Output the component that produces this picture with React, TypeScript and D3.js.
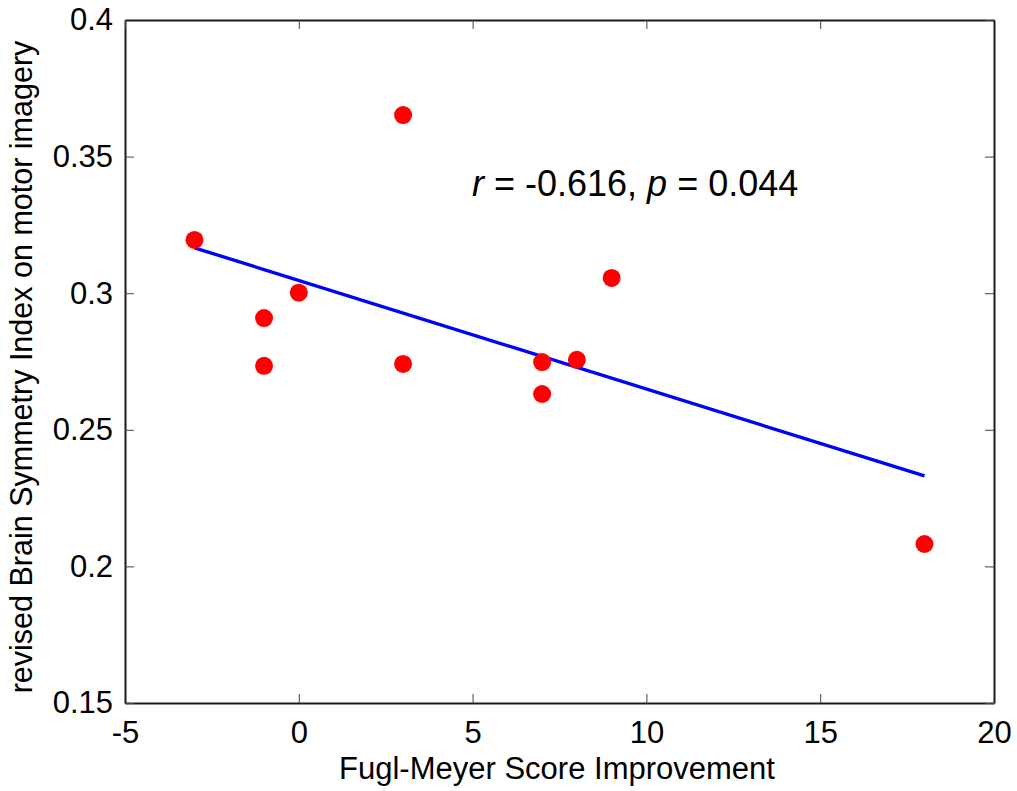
import React, { useEffect, useRef } from "react";
import * as d3 from "d3";

// scatter data: FM score improvement vs revised BSI
const fmScores = [-3, -1, -1, 0, 3, 3, 7, 7, 8, 9, 18];
const bsiValues = [0.3195, 0.2909, 0.2734, 0.3002, 0.3652, 0.2741, 0.2748, 0.2631, 0.2756, 0.3056, 0.2082];

// regression line endpoints
const fitX = [-3, 18];
const fitY = [0.3166, 0.2331];

const xTicks = [-5, 0, 5, 10, 15, 20];
const yTicks = [0.15, 0.2, 0.25, 0.3, 0.35, 0.4];

const width = 1017;
const height = 791;
const margin = { top: 20, right: 23, bottom: 88, left: 125 };

export default function App() {
    const ref = useRef<SVGSVGElement>(null);

    useEffect(() => {
        const svg = d3.select(ref.current);
        svg.selectAll("*").remove();

        const x = d3.scaleLinear().domain([-5, 20]).range([margin.left, width - margin.right]);
        const y = d3.scaleLinear().domain([0.15, 0.4]).range([height - margin.bottom, margin.top]);

        const font = "Arial, 'Liberation Sans', sans-serif";
        const tickLen = 9;

        // bottom axis with labels
        const bottom = svg.append("g")
            .attr("transform", `translate(0, ${y(0.15)})`)
            .call(d3.axisBottom(x).tickValues(xTicks).tickSizeInner(-tickLen).tickSizeOuter(0).tickPadding(18).tickFormat(d => String(+d)));
        // left axis with labels
        const left = svg.append("g")
            .attr("transform", `translate(${x(-5)}, 0)`)
            .call(d3.axisLeft(y).tickValues(yTicks).tickSizeInner(-tickLen).tickSizeOuter(0).tickPadding(12).tickFormat(d => String(+d)));
        // top + right, ticks only
        const top = svg.append("g")
            .attr("transform", `translate(0, ${y(0.4)})`)
            .call(d3.axisTop(x).tickValues(xTicks).tickSizeInner(-tickLen).tickSizeOuter(0).tickFormat(() => ""));
        const right = svg.append("g")
            .attr("transform", `translate(${x(20)}, 0)`)
            .call(d3.axisRight(y).tickValues(yTicks).tickSizeInner(-tickLen).tickSizeOuter(0).tickFormat(() => ""));

        [bottom, left, top, right].forEach(g => {
            g.select(".domain").attr("stroke", "#1a1a1a").attr("stroke-width", 2);
            g.selectAll(".tick line").attr("stroke", "#444").attr("stroke-width", 1);
            g.selectAll(".tick text").attr("font-family", font).attr("font-size", 31).attr("fill", "#000");
        });

        // fit line
        const line = d3.line<number>().x((d, i) => x(fitX[i])).y(d => y(d));
        svg.append("path")
            .datum(fitY)
            .attr("d", line)
            .attr("fill", "none")
            .attr("stroke", "#0000ff")
            .attr("stroke-width", 3.4);

        // points
        svg.append("g")
            .selectAll("circle")
            .data(fmScores)
            .join("circle")
            .attr("cx", d => x(d))
            .attr("cy", (d, i) => y(bsiValues[i]))
            .attr("r", 9)
            .attr("fill", "#ff0000");

        // annotation
        const ann = svg.append("text")
            .attr("x", 472)
            .attr("y", 196)
            .attr("font-family", font)
            .attr("font-size", 36)
            .attr("fill", "#000");
        ann.append("tspan").attr("font-style", "italic").text("r");
        ann.append("tspan").text(" = -0.616, ");
        ann.append("tspan").attr("font-style", "italic").text("p");
        ann.append("tspan").text(" = 0.044");

        // axis labels
        svg.append("text")
            .attr("x", 557)
            .attr("y", 779)
            .attr("text-anchor", "middle")
            .attr("font-family", font)
            .attr("font-size", 31)
            .text("Fugl-Meyer Score Improvement");

        svg.append("text")
            .attr("transform", `translate(32, 367) rotate(-90)`)
            .attr("text-anchor", "middle")
            .attr("font-family", font)
            .attr("font-size", 30.5)
            .text("revised Brain Symmetry Index on motor imagery");
    }, []);

    return (
        <svg ref={ref} width={width} height={height} style={{ position: "absolute", left: 0, top: 0, background: "#fff" }} />
    );
}
